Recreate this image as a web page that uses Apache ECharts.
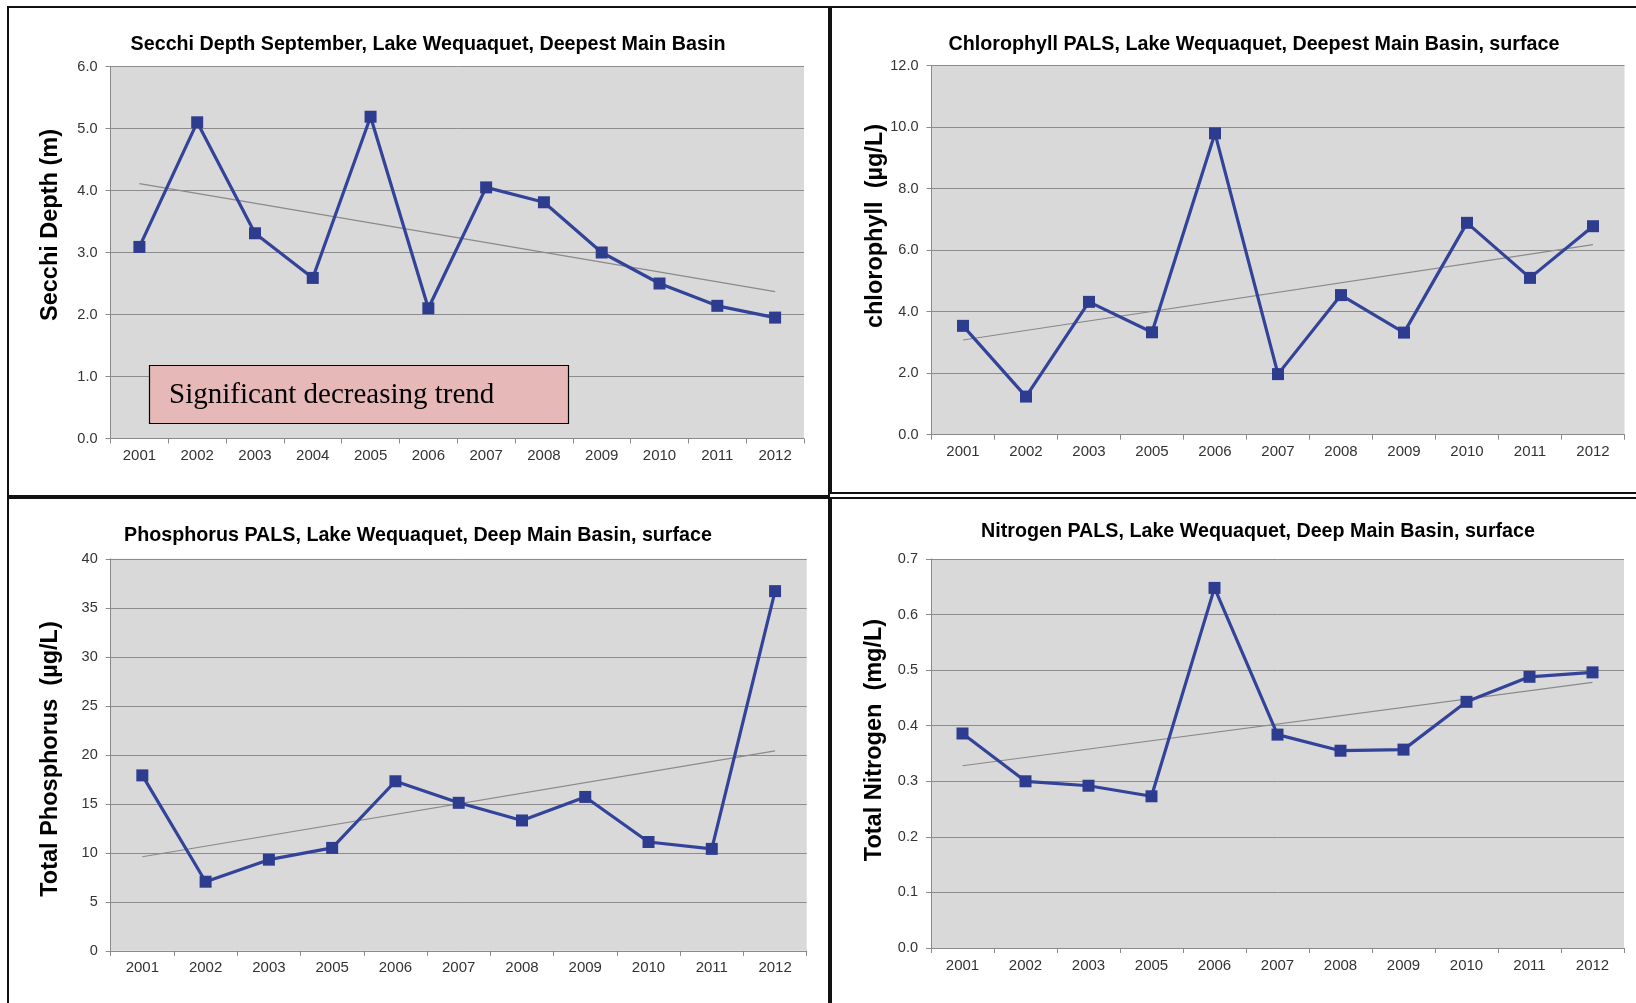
<!DOCTYPE html>
<html>
<head>
<meta charset="utf-8">
<script src="https://cdn.jsdelivr.net/npm/echarts@6/dist/echarts.min.js"></script>
<style>
html,body{margin:0;padding:0;background:#fff;}
#main{width:1636px;height:1003px;}
</style>
</head>
<body>
<div id="main"></div>
<script>
// ---- data ----
var yearsSecchi = ['2001','2002','2003','2004','2005','2006','2007','2008','2009','2010','2011','2012'];
var secchiDepth = [3.09, 5.10, 3.31, 2.59, 5.19, 2.10, 4.05, 3.81, 3.00, 2.50, 2.14, 1.95];
var secchiTrend = [4.11, 2.37];

var yearsPals = ['2001','2002','2003','2005','2006','2007','2008','2009','2010','2011','2012'];
var chlorophyll = [3.54, 1.24, 4.32, 3.33, 9.80, 1.97, 4.54, 3.32, 6.89, 5.10, 6.78];
var chlorophyllTrend = [3.08, 6.18];

var phosphorus = [17.9, 7.05, 9.3, 10.5, 17.3, 15.1, 13.3, 15.7, 11.1, 10.4, 36.7];
var phosphorusTrend = [9.6, 20.4];

var nitrogen = [0.386, 0.300, 0.292, 0.273, 0.648, 0.384, 0.355, 0.357, 0.443, 0.488, 0.496];
var nitrogenTrend = [0.328, 0.478];

var titles = [
  'Secchi Depth September, Lake Wequaquet, Deepest Main Basin',
  'Chlorophyll PALS, Lake Wequaquet, Deepest Main Basin, surface',
  'Phosphorus PALS, Lake Wequaquet, Deep Main Basin, surface',
  'Nitrogen PALS, Lake Wequaquet, Deep Main Basin, surface'
];
var yNames = ['Secchi Depth (m)', 'chlorophyll  (\u00b5g/L)', 'Total Phosphorus  (\u00b5g/L)', 'Total Nitrogen  (mg/L)'];
var yMax = [6, 12, 40, 0.7];
var yStep = [1, 2, 5, 0.1];
var yDecimals = [1, 1, 0, 1];
var annotationText = 'Significant decreasing trend';

// ---- layout / style ----
var FONT = '"Liberation Sans", Arial, sans-serif';
var LINE = '#33439a';
var MARK = '#2e3c8f';
var grids = [
  {left:110.5, top:66.5, width:693.5, height:372},
  {left:931.5, top:65.7, width:693, height:369},
  {left:110.7, top:558.8, width:696, height:392},
  {left:931, top:559, width:693, height:389}
];
var titlePos = [[423, 30], [1249, 30], [413, 521], [1253, 517]];
var namePos = [[51, 225], [876, 226], [51, 759], [875, 740]];

var seriesData = [secchiDepth, chlorophyll, phosphorus, nitrogen];
var trendData = [secchiTrend, chlorophyllTrend, phosphorusTrend, nitrogenTrend];
var cats = [yearsSecchi, yearsPals, yearsPals, yearsPals];

var option = {
  animation:false,
  backgroundColor:'#ffffff',
  title:[], grid:[], xAxis:[], yAxis:[], series:[],
  graphic:[]
};

for (var i = 0; i < 4; i++) {
  option.title.push({
    text: titles[i], left: titlePos[i][0], top: titlePos[i][1], textAlign:'center',
    textStyle:{fontFamily:FONT, fontWeight:'bold', fontSize:19.7, color:'#000'}
  });
  option.grid.push({
    left:grids[i].left, top:grids[i].top, width:grids[i].width, height:grids[i].height,
    show:true, backgroundColor:'#d9d9d9', borderWidth:0, containLabel:false
  });
  option.xAxis.push({
    type:'category', gridIndex:i, data:cats[i], boundaryGap:true,
    axisLine:{show:true, lineStyle:{color:'#8a8a8a', width:1}},
    axisTick:{show:true, length:5, alignWithLabel:false, lineStyle:{color:'#8a8a8a'}},
    axisLabel:{interval:0, margin:10, fontFamily:FONT, fontSize:15, color:'#333'},
    splitLine:{show:false}
  });
  (function(dec){
    option.yAxis.push({
      type:'value', gridIndex:i, min:0, max:yMax[i], interval:yStep[i],
      axisLine:{show:true, lineStyle:{color:'#8a8a8a', width:1}},
      axisTick:{show:true, length:5, lineStyle:{color:'#8a8a8a'}},
      axisLabel:{margin:13, fontFamily:FONT, fontSize:14.5, color:'#333',
        formatter:function(v){ return v.toFixed(dec); }},
      splitLine:{show:true, lineStyle:{color:'#8c8c8c', width:1}}
    });
  })(yDecimals[i]);
  option.series.push({
    type:'line', xAxisIndex:i, yAxisIndex:i, data:seriesData[i],
    symbol:'rect', symbolSize:12, showSymbol:true,
    lineStyle:{color:LINE, width:3.2}, itemStyle:{color:MARK},
    z:3
  });
  var c = cats[i];
  option.series.push({
    type:'line', xAxisIndex:i, yAxisIndex:i,
    data:[[c[0], trendData[i][0]], [c[c.length-1], trendData[i][1]]],
    symbol:'none', lineStyle:{color:'#8a8a8a', width:1.2}, z:2
  });
  option.graphic.push({
    type:'text', x:namePos[i][0], y:namePos[i][1], rotation:Math.PI/2,
    style:{text:yNames[i], fontFamily:FONT, fontWeight:'bold', fontSize:23.5, fill:'#000',
      align:'center', verticalAlign:'middle'}
  });
}

// panel frames
option.graphic.push(
  {type:'rect', shape:{x:8, y:7, width:821, height:489}, style:{fill:null, stroke:'#111', lineWidth:2}, silent:true},
  {type:'rect', shape:{x:831, y:7, width:820, height:486}, style:{fill:null, stroke:'#111', lineWidth:2}, silent:true},
  {type:'rect', shape:{x:8, y:498, width:821, height:520}, style:{fill:null, stroke:'#111', lineWidth:2}, silent:true},
  {type:'rect', shape:{x:831, y:498, width:820, height:520}, style:{fill:null, stroke:'#111', lineWidth:2}, silent:true}
);
// annotation box
option.graphic.push({
  type:'group', children:[
    {type:'rect', shape:{x:149.5, y:365.5, width:419, height:58},
      style:{fill:'#e6b9b8', stroke:'#000', lineWidth:1.2}, z:10},
    {type:'text', x:169, y:395, z:11,
      style:{text:annotationText, fontFamily:'"Liberation Serif", "Times New Roman", serif',
        fontSize:29, fill:'#000', align:'left', verticalAlign:'middle'}}
  ]
});

var chart = echarts.init(document.getElementById('main'), null, {renderer:'canvas'});
chart.setOption(option);
</script>
</body>
</html>
